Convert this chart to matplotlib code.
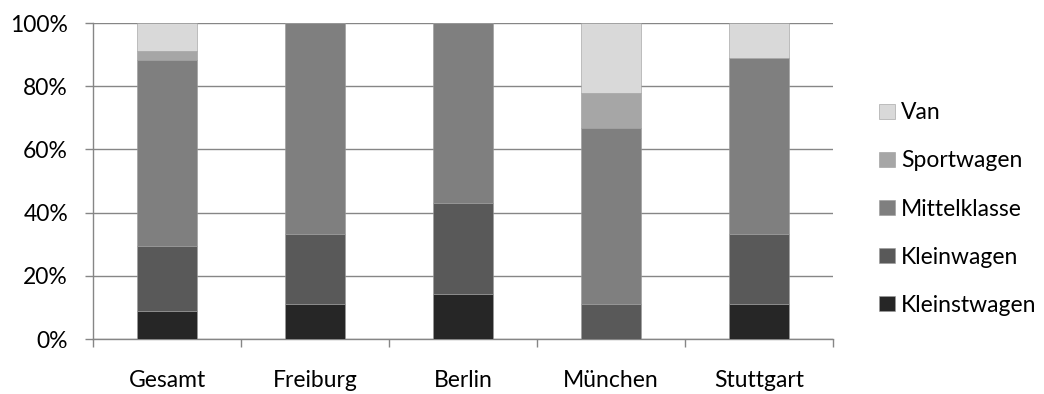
import matplotlib
matplotlib.use("Agg")
import matplotlib.pyplot as plt
import numpy as np
from matplotlib.ticker import FixedLocator, FuncFormatter

plt.rcParams.update({"font.family": ["Lato", "DejaVu Sans"], "font.size": 16.5})

# share of car classes per city (%), counted from the survey
cities = ["Gesamt", "Freiburg", "Berlin", "München", "Stuttgart"]
classes = ["Kleinstwagen", "Kleinwagen", "Mittelklasse", "Sportwagen", "Van"]
kleinstwagen = [8.8, 11.1, 14.3, 0.0, 11.1]
kleinwagen = [20.6, 22.2, 28.6, 11.1, 22.2]
mittelklasse = [58.8, 66.7, 57.1, 55.6, 55.6]
sportwagen = [2.9, 0.0, 0.0, 11.1, 0.0]
van = [8.9, 0.0, 0.0, 22.2, 11.1]
series = [kleinstwagen, kleinwagen, mittelklasse, sportwagen, van]
colors = ["#262626", "#595959", "#7f7f7f", "#a6a6a6", "#d9d9d9"]

fig = plt.figure(figsize=(10.44, 3.94), dpi=100)
ax = fig.add_axes([93/1044, 55/394, 740/1044, 316/394])

x = np.arange(len(cities))
bottom = np.zeros(len(cities))
handles = []
for vals, name, c in zip(series, classes, colors):
    h = ax.bar(x, vals, 0.4, bottom=bottom, color=c, edgecolor="#9a9a9a", lw=0.4,
               label=name, zorder=3)
    handles.append(h)
    bottom += np.array(vals)

ax.set_xlim(-0.5, len(cities) - 0.5)
ax.set_ylim(0, 100)
ax.yaxis.set_major_locator(FixedLocator(range(0, 101, 20)))
ax.yaxis.set_major_formatter(FuncFormatter(lambda v, p: f"{v:.0f}%"))
ax.grid(axis="y", color="#868686", lw=1, zorder=0)
ax.set_axisbelow(True)

ax.xaxis.set_major_locator(FixedLocator(np.arange(-0.5, len(cities), 1.0)))
ax.xaxis.set_major_formatter(FuncFormatter(lambda v, p: ""))
ax.xaxis.set_minor_locator(FixedLocator(x))
ax.set_xticklabels(cities, minor=True)
ax.tick_params(axis="x", which="major", length=6, color="#868686", width=1)
ax.tick_params(axis="x", which="minor", length=0, pad=22)
ax.tick_params(axis="y", length=6, color="#868686", width=1, pad=12)

for s in ["top", "right"]:
    ax.spines[s].set_visible(False)
for s in ["left", "bottom"]:
    ax.spines[s].set_color("#868686")
    ax.spines[s].set_linewidth(1)

fig.legend(handles[::-1], classes[::-1], loc="center left",
           bbox_to_anchor=(870/1044, 185/394), frameon=False,
           handlelength=0.68, handleheight=0.68, handletextpad=0.28,
           labelspacing=1.18, borderaxespad=0)

fig.savefig("out.png", dpi=100)
